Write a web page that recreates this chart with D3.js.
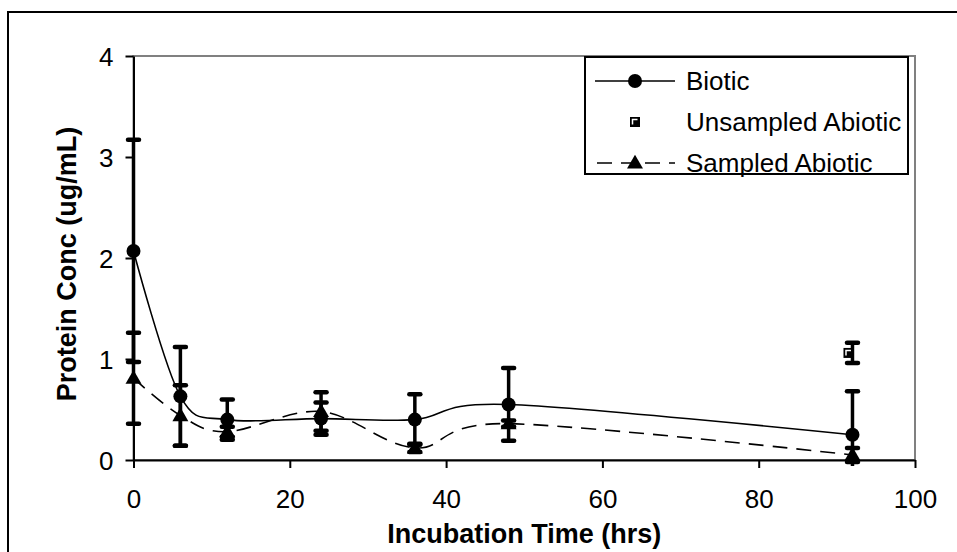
<!DOCTYPE html>
<html>
<head>
<meta charset="utf-8">
<script src="https://cdn.jsdelivr.net/npm/d3@7"></script>
<style>
  html, body { margin: 0; padding: 0; background: #fff; }
  svg { display: block; font-family: "Liberation Sans", Arial, sans-serif; }
</style>
</head>
<body>
<svg id="chart" width="957" height="552"></svg>
<script>
// ---- data ----
const hours        = [0, 6, 12, 24, 36, 48, 92];
const biotic       = [2.07, 0.63, 0.40, 0.41, 0.40, 0.55, 0.25];
const bioticErr    = [1.10, 0.49, 0.20, 0.16, 0.25, 0.36, 0.43];
const sampled      = [0.81, 0.44, 0.28, 0.48, 0.12, 0.36, 0.05];
const sampledErr   = [0.45, 0.30, 0.05, 0.19, 0.04, 0.03, 0.07];
const unsampledHours = [92];
const unsampled      = [1.06];
const unsampledErr   = [0.10];
const xTicks = [0, 20, 40, 60, 80, 100];
const yTicks = [0, 1, 2, 3, 4];
const legendLabels = ["Biotic", "Unsampled Abiotic", "Sampled Abiotic"];
const xTitle = "Incubation Time (hrs)";
const yTitle = "Protein Conc (ug/mL)";

// ---- layout ----
const svg = d3.select("#chart");
const L = 133.5, R = 915, T = 56, B = 460;
const x = d3.scaleLinear().domain([0, 100]).range([L, R]);
const y = d3.scaleLinear().domain([0, 4]).range([B, T]);

// outer chart border
svg.append("rect").attr("x", 8).attr("y", 12).attr("width", 980).attr("height", 580)
  .attr("fill", "#fff").attr("stroke", "#000").attr("stroke-width", 2);

// plot area
svg.append("rect").attr("x", L).attr("y", T).attr("width", R - L).attr("height", B - T)
  .attr("fill", "#fff").attr("stroke", "#808080").attr("stroke-width", 2);

svg.append("clipPath").attr("id", "clip").append("rect")
  .attr("x", L - 20).attr("y", T - 10).attr("width", R - L + 40).attr("height", B - T + 16);

// axes
const xAxis = svg.append("g").attr("transform", `translate(0,${B})`)
  .call(d3.axisBottom(x).tickValues(xTicks).tickFormat(d3.format("d"))
    .tickSize(8).tickPadding(22).tickSizeOuter(0));
const yAxis = svg.append("g").attr("transform", `translate(${L},0)`)
  .call(d3.axisLeft(y).tickValues(yTicks).tickFormat(d3.format("d"))
    .tickSize(8).tickPadding(12).tickSizeOuter(0));
[xAxis, yAxis].forEach(g => {
  g.select(".domain").attr("stroke", "#000").attr("stroke-width", 2);
  g.selectAll(".tick line").attr("stroke", "#000").attr("stroke-width", 2);
  g.selectAll(".tick text").attr("fill", "#000")
    .style("font-family", '"Liberation Sans", Arial, sans-serif').style("font-size", "26px");
});
xAxis.selectAll(".tick text").attr("dy", "0.71em");
yAxis.selectAll(".tick text").attr("dy", "0.35em");

// axis titles
svg.append("text").attr("x", (L + R) / 2).attr("y", 543).attr("text-anchor", "middle")
  .style("font-weight", "bold").style("font-size", "27px").text(xTitle);
svg.append("text").attr("transform", "translate(76,264) rotate(-90)").attr("text-anchor", "middle")
  .style("font-weight", "bold").style("font-size", "27px").text(yTitle);

const plot = svg.append("g").attr("clip-path", "url(#clip)");

function errorBars(xs, vs, es) {
  const g = plot.append("g").attr("stroke", "#000");
  xs.forEach((h, i) => {
    const cx = x(h), top = y(vs[i] + es[i]), bot = y(vs[i] - es[i]);
    g.append("line").attr("x1", cx).attr("x2", cx).attr("y1", top).attr("y2", bot).attr("stroke-width", 3.5);
    [top, bot].forEach(yy => g.append("line").attr("x1", cx - 5.5).attr("x2", cx + 5.5)
      .attr("y1", yy).attr("y2", yy).attr("stroke-width", 4.5).attr("stroke-linecap", "round"));
  });
}
errorBars(hours, biotic, bioticErr);
errorBars(hours, sampled, sampledErr);
errorBars(unsampledHours, unsampled, unsampledErr);

const line = d3.line().x(d => x(d[0])).y(d => y(d[1])).curve(d3.curveCardinal.tension(0));
plot.append("path").datum(hours.map((h, i) => [h, biotic[i]])).attr("d", line)
  .attr("fill", "none").attr("stroke", "#000").attr("stroke-width", 1.6);
plot.append("path").datum(hours.map((h, i) => [h, sampled[i]])).attr("d", line)
  .attr("fill", "none").attr("stroke", "#000").attr("stroke-width", 1.6).attr("stroke-dasharray", "15,9");

const tri = d3.symbol().type(d3.symbolTriangle).size(110);
function circleMarker(g, cx, cy) {
  g.append("circle").attr("cx", cx).attr("cy", cy).attr("r", 7).attr("fill", "#000");
}
function triMarker(g, cx, cy) {
  g.append("path").attr("d", tri()).attr("transform", `translate(${cx},${cy + 1})`).attr("fill", "#000");
}
function squareMarker(g, cx, cy) {
  g.append("rect").attr("x", cx - 5).attr("y", cy - 5).attr("width", 10).attr("height", 10).attr("fill", "#000");
  g.append("path").attr("d", `M${cx - 2.5},${cy + 2.5}V${cy - 2.5}H${cx + 2.5}`)
    .attr("fill", "none").attr("stroke", "#fff").attr("stroke-width", 1.5);
}
const mk = plot.append("g");
hours.forEach((h, i) => circleMarker(mk, x(h), y(biotic[i])));
hours.forEach((h, i) => triMarker(mk, x(h), y(sampled[i])));
unsampledHours.forEach((h, i) => squareMarker(mk, x(h) - 4, y(unsampled[i])));

// legend
const lg = svg.append("g");
lg.append("rect").attr("x", 585).attr("y", 57).attr("width", 323).attr("height", 117)
  .attr("fill", "#fff").attr("stroke", "#000").attr("stroke-width", 2);
const rows = [81, 122, 163];
lg.append("line").attr("x1", 595).attr("x2", 675).attr("y1", rows[0]).attr("y2", rows[0])
  .attr("stroke", "#000").attr("stroke-width", 1.6);
circleMarker(lg, 635, rows[0]);
squareMarker(lg, 635, rows[1]);
lg.append("line").attr("x1", 595).attr("x2", 675).attr("y1", rows[2]).attr("y2", rows[2])
  .attr("stroke", "#000").attr("stroke-width", 1.6).attr("stroke-dasharray", "15,9").attr("stroke-dashoffset", "-2");
triMarker(lg, 635, rows[2]);
legendLabels.forEach((t, i) => lg.append("text").attr("x", 686).attr("y", rows[i]).attr("dy", "0.35em")
  .style("font-size", "26px").attr("fill", "#000").text(t));
</script>
</body>
</html>
